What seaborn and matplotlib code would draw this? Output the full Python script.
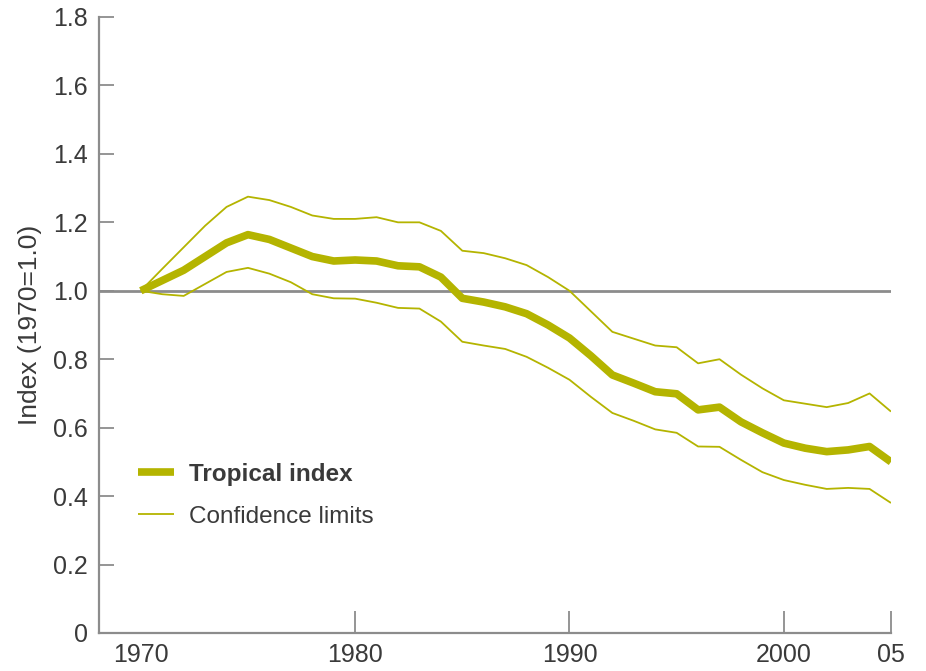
import matplotlib
matplotlib.use("Agg")
import matplotlib.pyplot as plt
import seaborn as sns
import pandas as pd

years = list(range(1970, 2006))
tropical_index = [1.0, 1.03, 1.06, 1.10, 1.14, 1.164, 1.15, 1.125, 1.10, 1.087,
                  1.09, 1.087, 1.073, 1.07, 1.04, 0.978, 0.967, 0.953, 0.933, 0.90,
                  0.862, 0.81, 0.754, 0.73, 0.705, 0.699, 0.652, 0.66, 0.617, 0.585,
                  0.555, 0.54, 0.53, 0.535, 0.545, 0.50]
upper_limit = [1.0, 1.064, 1.127, 1.19, 1.245, 1.275, 1.265, 1.245, 1.22, 1.21,
               1.21, 1.215, 1.20, 1.20, 1.175, 1.117, 1.11, 1.095, 1.075, 1.04,
               1.0, 0.94, 0.88, 0.86, 0.84, 0.835, 0.788, 0.80, 0.755, 0.715,
               0.68, 0.67, 0.66, 0.672, 0.70, 0.647]
lower_limit = [1.0, 0.99, 0.985, 1.02, 1.055, 1.067, 1.05, 1.025, 0.99, 0.978,
               0.977, 0.965, 0.95, 0.948, 0.91, 0.851, 0.84, 0.83, 0.807, 0.775,
               0.74, 0.69, 0.643, 0.62, 0.595, 0.585, 0.545, 0.544, 0.506, 0.47,
               0.447, 0.433, 0.421, 0.424, 0.421, 0.38]
x_ticks = [1970, 1980, 1990, 2000, 2005]
x_tick_labels = ["1970", "1980", "1990", "2000", "05"]
y_ticks = [0, 0.2, 0.4, 0.6, 0.8, 1.0, 1.2, 1.4, 1.6, 1.8]
y_tick_labels = ["0", "0.2", "0.4", "0.6", "0.8", "1.0", "1.2", "1.4", "1.6", "1.8"]

sns.set_style("white")
plt.rcParams["font.family"] = ["Liberation Sans", "DejaVu Sans"]
plt.rcParams["lines.solid_capstyle"] = "butt"
plt.rcParams["lines.solid_joinstyle"] = "round"

df = pd.DataFrame({"year": years, "index": tropical_index,
                   "upper": upper_limit, "lower": lower_limit})

olive = "#b4b400"
grey = "#8c8c8c"
text_col = "#3a3a3a"

fig = plt.figure(figsize=(9.26, 6.71), dpi=100)
ax = fig.add_axes([99 / 926, 1 - 633 / 671, (891 - 99) / 926, (633 - 17) / 671])

ax.axhline(1.0, color=grey, lw=2.0, zorder=1)
sns.lineplot(data=df, x="year", y="upper", ax=ax, color=olive, lw=1.3, zorder=3,
             label="Confidence limits")
sns.lineplot(data=df, x="year", y="lower", ax=ax, color=olive, lw=1.3, zorder=3)
sns.lineplot(data=df, x="year", y="index", ax=ax, color=olive, lw=5.5, zorder=4,
             label="Tropical index")

ax.set_xlim(1968.05, 2005)
ax.set_ylim(0, 1.8)
ax.set_xticks(x_ticks)
ax.set_xticklabels(x_tick_labels)
ax.set_yticks(y_ticks)
ax.set_yticklabels(y_tick_labels)

ax.tick_params(axis="x", direction="in", length=16, width=1.3, color=grey,
               labelsize=18, pad=7, labelcolor=text_col, bottom=True)
ax.tick_params(axis="y", direction="in", length=10.5, width=1.3, color=grey,
               labelsize=18, pad=8, labelcolor=text_col, left=True)
ax.xaxis.get_major_ticks()[0].tick1line.set_visible(False)

for s in ["top", "right"]:
    ax.spines[s].set_visible(False)
for s in ["left", "bottom"]:
    ax.spines[s].set_color(grey)
    ax.spines[s].set_linewidth(1.6)

ax.set_xlabel("")
ax.set_ylabel("Index (1970=1.0)", fontsize=19, color=text_col, labelpad=8)

handles, labels = ax.get_legend_handles_labels()
order = [labels.index("Tropical index"), labels.index("Confidence limits")]
leg = ax.legend([handles[i] for i in order], [labels[i] for i in order],
                frameon=False, loc="upper left", bbox_to_anchor=(0.049, 0.276),
                borderaxespad=0, borderpad=0,
                fontsize=17.5, handlelength=1.5, handletextpad=0.62,
                labelspacing=0.82, labelcolor=text_col)
leg.get_texts()[0].set_fontweight("bold")

fig.savefig("out.png", dpi=100)
